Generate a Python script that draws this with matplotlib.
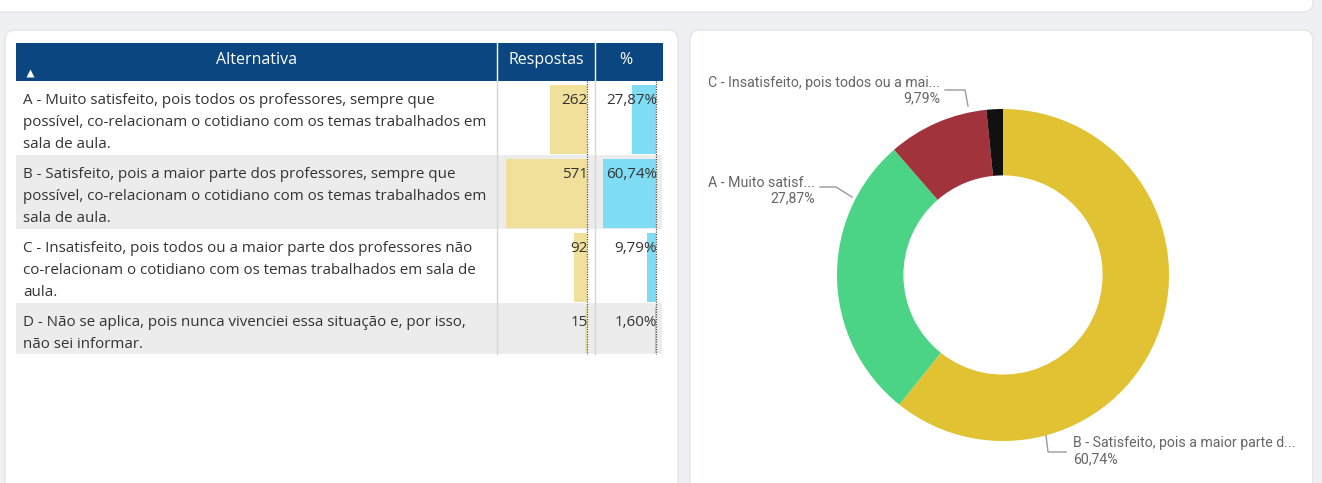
import matplotlib.pyplot as plt
from matplotlib.patches import FancyBboxPatch, Rectangle
import numpy as np

# survey answers
letras = ["A", "B", "C", "D"]
linhas_texto = [
    ["A - Muito satisfeito, pois todos os professores, sempre que",
     "possível, co-relacionam o cotidiano com os temas trabalhados em",
     "sala de aula."],
    ["B - Satisfeito, pois a maior parte dos professores, sempre que",
     "possível, co-relacionam o cotidiano com os temas trabalhados em",
     "sala de aula."],
    ["C - Insatisfeito, pois todos ou a maior parte dos professores não",
     "co-relacionam o cotidiano com os temas trabalhados em sala de",
     "aula."],
    ["D - Não se aplica, pois nunca vivenciei essa situação e, por isso,",
     "não sei informar."],
]
respostas = [262, 571, 92, 15]
percentuais = [27.87, 60.74, 9.79, 1.60]

# donut order (largest first) and labels
ordem_donut = ["B", "A", "C", "D"]
cores_donut = {"A": "#4bd386", "B": "#e0c232", "C": "#a1333d", "D": "#111111"}
rotulos_donut = {
    "A": "A - Muito satisf...",
    "B": "B - Satisfeito, pois a maior parte d...",
    "C": "C - Insatisfeito, pois todos ou a mai...",
}

W, H = 1322, 483
fig = plt.figure(figsize=(W / 100, H / 100), dpi=100)
fig.patch.set_facecolor("#eef0f3")
ax = fig.add_axes([0, 0, 1, 1])
ax.set_xlim(0, W)
ax.set_ylim(H, 0)
ax.axis("off")

# white cards
def card(x, y, w, h):
    ax.add_patch(FancyBboxPatch((x, y), w, h, boxstyle="round,pad=0,rounding_size=10",
                                fc="white", ec="#e3e5e8", lw=1, zorder=0))

card(-20, -20, 1333, 32)
card(5, 30, 673, 480)
card(690, 30, 623, 480)

fonte = "Open Sans"
cor_txt = "#333333"
tam = 10.9

# table geometry
x0, x1, x2, x3 = 16, 497, 595, 663
topo_cab, base_cab = 43, 81
passo = 22
cab_cor = "#0b4680"

ax.add_patch(Rectangle((x0, topo_cab), x3 - x0, base_cab - topo_cab, fc=cab_cor, ec="none", zorder=1))
for xs in (x1, x2):
    ax.plot([xs, xs], [topo_cab, base_cab], color="white", lw=1, zorder=2)
ax.text((x0 + x1) / 2, 60, "Alternativa", color="white", fontsize=11.5, family=fonte,
        ha="center", va="center", zorder=3)
ax.text((x1 + x2) / 2, 60, "Respostas", color="white", fontsize=11.5, family=fonte,
        ha="center", va="center", zorder=3)
ax.text((x2 + x3) / 2 - 3, 60, "%", color="white", fontsize=11.5, family=fonte,
        ha="center", va="center", zorder=3)
ax.plot([30], [73], marker="^", color="white", ms=6, mec="none", zorder=3)

# rows
ref_resp = 587
ref_pct = 656
esc_resp = 81 / max(respostas)
esc_pct = 53 / max(percentuais)
y = base_cab
topos, bases = [], []
for i, linhas in enumerate(linhas_texto):
    alt = 7 + passo * len(linhas) + (1 if len(linhas) == 3 else 0)
    fundo = "white" if i % 2 == 0 else "#ececec"
    ax.add_patch(Rectangle((x0, y), x3 - x0 - 1, alt, fc=fundo, ec="none", zorder=1))
    for k, t in enumerate(linhas):
        ax.text(23, y + 19 + k * passo, t, color=cor_txt, fontsize=tam, family=fonte,
                ha="left", va="center", zorder=3)
    topos.append(y)
    bases.append(y + alt)
    y += alt

topos = np.array(topos)
bases = np.array(bases)
centros = (topos + 4 + bases - 1) / 2
alturas = bases - 1 - (topos + 4)

w_resp = np.array(respostas) * esc_resp
w_pct = np.array(percentuais) * esc_pct
ax.barh(centros, w_resp, left=ref_resp - w_resp, height=alturas, color="#f0e09a", zorder=2)
ax.barh(centros, w_pct, left=ref_pct - w_pct, height=alturas, color="#7fdcf5", zorder=2)

for i in range(len(respostas)):
    ax.text(ref_resp + 1, topos[i] + 19, f"{respostas[i]}", color=cor_txt, fontsize=tam,
            family=fonte, ha="right", va="center", zorder=3)
    ax.text(ref_pct + 1, topos[i] + 19, f"{percentuais[i]:.2f}%".replace(".", ","), color=cor_txt,
            fontsize=tam, family=fonte, ha="right", va="center", zorder=3)

fim = bases[-1]
ax.plot([x1, x1], [base_cab, fim], color="#d6d6d6", lw=1, zorder=2)
ax.plot([x2, x2], [base_cab, fim], color="#d6d6d6", lw=1, zorder=2)
ax.plot([ref_resp, ref_resp], [base_cab, fim], color="#555555", lw=0.9, ls=(0, (1, 1)), zorder=3)
ax.plot([ref_pct, ref_pct], [base_cab, fim], color="#555555", lw=0.9, ls=(0, (1, 1)), zorder=3)

# donut chart
cx, cy, r_px = 1003, 275, 166
lado = r_px * 2.5
axd = fig.add_axes([(cx - lado / 2) / W, (H - cy - lado / 2) / H, lado / W, lado / H])
idx = [letras.index(l) for l in ordem_donut]
axd.pie([percentuais[i] for i in idx], colors=[cores_donut[l] for l in ordem_donut],
        startangle=90, counterclock=False, radius=1, frame=True,
        wedgeprops=dict(width=0.4, edgecolor="none"))
axd.set_xlim(-1.25, 1.25)
axd.set_ylim(-1.25, 1.25)
axd.set_aspect("equal")
axd.axis("off")

cor_rot = "#666666"
cor_linha = "#9a9a9a"
fonte_rot = "Roboto"
tam_rot = 10.2

# label C
ax.plot([945, 965, 968], [90, 90, 106], color=cor_linha, lw=1, zorder=3)
ax.text(940, 83, rotulos_donut["C"], color=cor_rot, fontsize=tam_rot, family=fonte_rot, ha="right", va="center")
ax.text(940, 98, f"{percentuais[2]:.2f}%".replace(".", ","), color=cor_rot, fontsize=tam_rot,
        family=fonte_rot, ha="right", va="center")
# label A
ax.plot([820, 836, 852], [187, 187, 197], color=cor_linha, lw=1, zorder=3)
ax.text(815, 183, rotulos_donut["A"], color=cor_rot, fontsize=tam_rot, family=fonte_rot, ha="right", va="center")
ax.text(815, 198, f"{percentuais[0]:.2f}%".replace(".", ","), color=cor_rot, fontsize=tam_rot,
        family=fonte_rot, ha="right", va="center")
# label B
ax.plot([1046, 1048, 1066], [435, 452, 452], color=cor_linha, lw=1, zorder=3)
ax.text(1073, 443, rotulos_donut["B"], color=cor_rot, fontsize=tam_rot, family=fonte_rot, ha="left", va="center")
ax.text(1073, 459, f"{percentuais[1]:.2f}%".replace(".", ","), color=cor_rot, fontsize=tam_rot,
        family=fonte_rot, ha="left", va="center")

fig.savefig("out.png", dpi=100, facecolor=fig.get_facecolor())
